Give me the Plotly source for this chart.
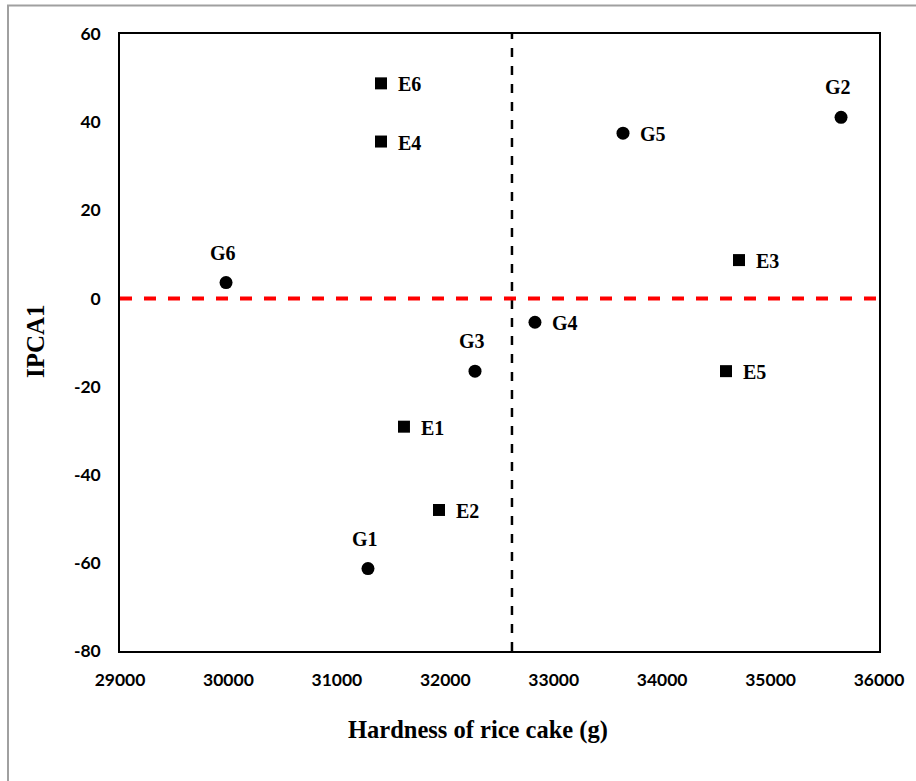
import plotly.graph_objects as go

g_names = ["G1", "G2", "G3", "G4", "G5", "G6"]
g_x = [31287, 35650, 32274, 32827, 33639, 29978]
g_y = [-61.3, 41.1, -16.5, -5.4, 37.5, 3.6]
g_side = ["top", "top", "top", "right", "right", "top"]

e_names = ["E1", "E2", "E3", "E4", "E5", "E6"]
e_x = [31619, 31942, 34709, 31407, 34589, 31407]
e_y = [-29.1, -48.0, 8.7, 35.6, -16.5, 48.8]

x_mean = 32615
x_ticks = [29000, 30000, 31000, 32000, 33000, 34000, 35000, 36000]
y_ticks = [-80, -60, -40, -20, 0, 20, 40, 60]

label_font = dict(family="Liberation Serif", size=20, color="black")

fig = go.Figure()
fig.add_trace(go.Scatter(
    x=g_x, y=g_y, mode="markers",
    marker=dict(symbol="circle", size=13, color="black"), showlegend=False))
fig.add_trace(go.Scatter(
    x=e_x, y=e_y, mode="markers",
    marker=dict(symbol="square", size=12, color="black"), showlegend=False))

annotations = []
for n, x, y, s in zip(g_names, g_x, g_y, g_side):
    if s == "top":
        annotations.append(dict(x=x, y=y, text="<b>%s</b>" % n, showarrow=False, font=label_font,
                                xanchor="center", yanchor="middle", yshift=30, xshift=-3))
    else:
        annotations.append(dict(x=x, y=y, text="<b>%s</b>" % n, showarrow=False, font=label_font,
                                xanchor="left", yanchor="middle", xshift=15, yshift=-1))
for n, x, y in zip(e_names, e_x, e_y):
    annotations.append(dict(x=x, y=y, text="<b>%s</b>" % n, showarrow=False, font=label_font,
                            xanchor="left", yanchor="middle", xshift=15, yshift=-1))

annotations.append(dict(xref="paper", yref="paper", x=(477.5 - 120) / 759, y=(651.5 - 731) / 618,
                        text="<b>Hardness of rice cake (g)</b>", showarrow=False,
                        font=dict(family="Liberation Serif", size=24.5, color="black"),
                        xanchor="center", yanchor="middle"))
annotations.append(dict(xref="paper", yref="paper", x=(35 - 120) / 759, y=(651.5 - 341) / 618,
                        text="<b>IPCA1</b>", showarrow=False, textangle=-90,
                        font=dict(family="Liberation Serif", size=25, color="black"),
                        xanchor="center", yanchor="middle"))

fig.add_shape(type="line", xref="x", yref="paper", x0=x_mean, x1=x_mean, y0=0, y1=1,
              line=dict(color="black", width=2.5, dash="dash"), layer="below")
fig.add_shape(type="line", xref="paper", yref="y", x0=0, x1=1, y0=0, y1=0,
              line=dict(color="red", width=4, dash="dash"), layer="below")
# outer border (right and bottom edges fall outside the picture)
fig.add_shape(type="rect", xref="paper", yref="paper",
              x0=(8 - 120) / 759, x1=(1000 - 120) / 759, y0=(651.5 - 900) / 618, y1=(651.5 - 5) / 618,
              line=dict(color="#a0a0a0", width=2), layer="below")

tick_font = dict(family="Lato", size=17.5, color="black")
fig.update_layout(
    width=916, height=781,
    margin=dict(l=120, r=37, t=33.5, b=129.5),
    paper_bgcolor="white", plot_bgcolor="white",
    annotations=annotations,
    xaxis=dict(range=[29000, 36000], tickvals=x_ticks, ticktext=["<b>%d</b>" % v for v in x_ticks],
               tickfont=tick_font, showgrid=False, zeroline=False, showline=True, mirror=True,
               linecolor="black", linewidth=1.5, ticks="", ticklabelstandoff=12),
    yaxis=dict(range=[-80, 60], tickvals=y_ticks, ticktext=["<b>%d</b>" % v for v in y_ticks],
               tickfont=tick_font, showgrid=False, zeroline=False, showline=True, mirror=True,
               linecolor="black", linewidth=1.5, ticks="", ticklabelstandoff=14),
)
fig.write_html("out.html", config={"displayModeBar": False},
               post_script="document.body.style.margin='0';document.body.style.overflow='hidden';")
